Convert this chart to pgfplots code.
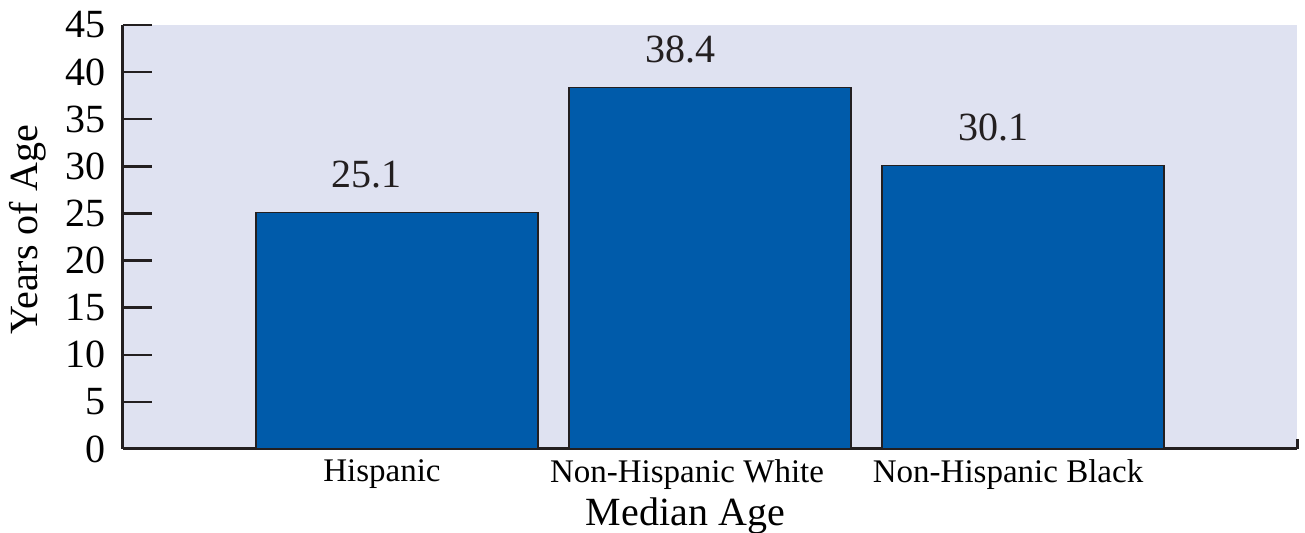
\documentclass[border=0pt]{standalone}
\usepackage{pgfplots}
\pgfplotsset{compat=1.18}
\usepackage{fontspec}
\setmainfont{Liberation Serif}
\definecolor{bgc}{HTML}{DFE2F1}
\definecolor{barc}{HTML}{005BAA}
\definecolor{ink}{HTML}{231F20}
\begin{document}
\begin{tikzpicture}
\useasboundingbox (-61.5pt,-42pt) rectangle (591pt,224.5pt);
\begin{axis}[
  at={(0pt,0pt)}, anchor=south west,
  scale only axis, width=587pt, height=212pt,
  xmin=-0.875, xmax=2.875, ymin=0, ymax=45,
  axis background/.style={fill=bgc},
  axis x line*=bottom, axis y line*=left,
  axis line style={line width=1.5pt, draw=ink, -},
  xtick={0,1,2},
  xticklabels={Hispanic,Non-Hispanic White\hspace*{8pt},Non-Hispanic Black},
  x tick label style={font=\fontsize{16.5}{19}\selectfont, xshift=-7.5pt, yshift=-2pt},
  major x tick style={draw=none},
  ytick={0,5,...,45},
  y tick label style={font=\fontsize{20}{24}\selectfont, xshift=-5pt},
  /pgf/number format/assume math mode=true,
  major y tick style={draw=ink, line width=1.2pt},
  tick align=inside, major tick length=14.5pt,
  ylabel={Years of Age},
  ylabel style={font=\fontsize{20}{24}\selectfont, at={(axis description cs:-0.081,0.517)}, anchor=center},
  xlabel={Median Age},
  xlabel style={font=\fontsize{20}{24}\selectfont, at={(axis description cs:0.479,0)}, anchor=base, yshift=-38.5pt},
  clip=false,
]
\addplot[ybar, bar width=141pt, fill=barc, draw=ink, line width=0.6pt,
  nodes near coords,
  every node near coord/.append style={font=\fontsize{20}{24}\selectfont, anchor=base, xshift=-15pt, yshift=12.5pt, text=ink},
  point meta=explicit symbolic]
  coordinates {(0,25.1)[25.1] (1,38.4)[38.4] (2,30.1)[30.1]};
\draw[ink, line width=1.5pt] (axis cs:2.875,0) -- ++(0pt,5pt);
\end{axis}
\end{tikzpicture}
\end{document}
